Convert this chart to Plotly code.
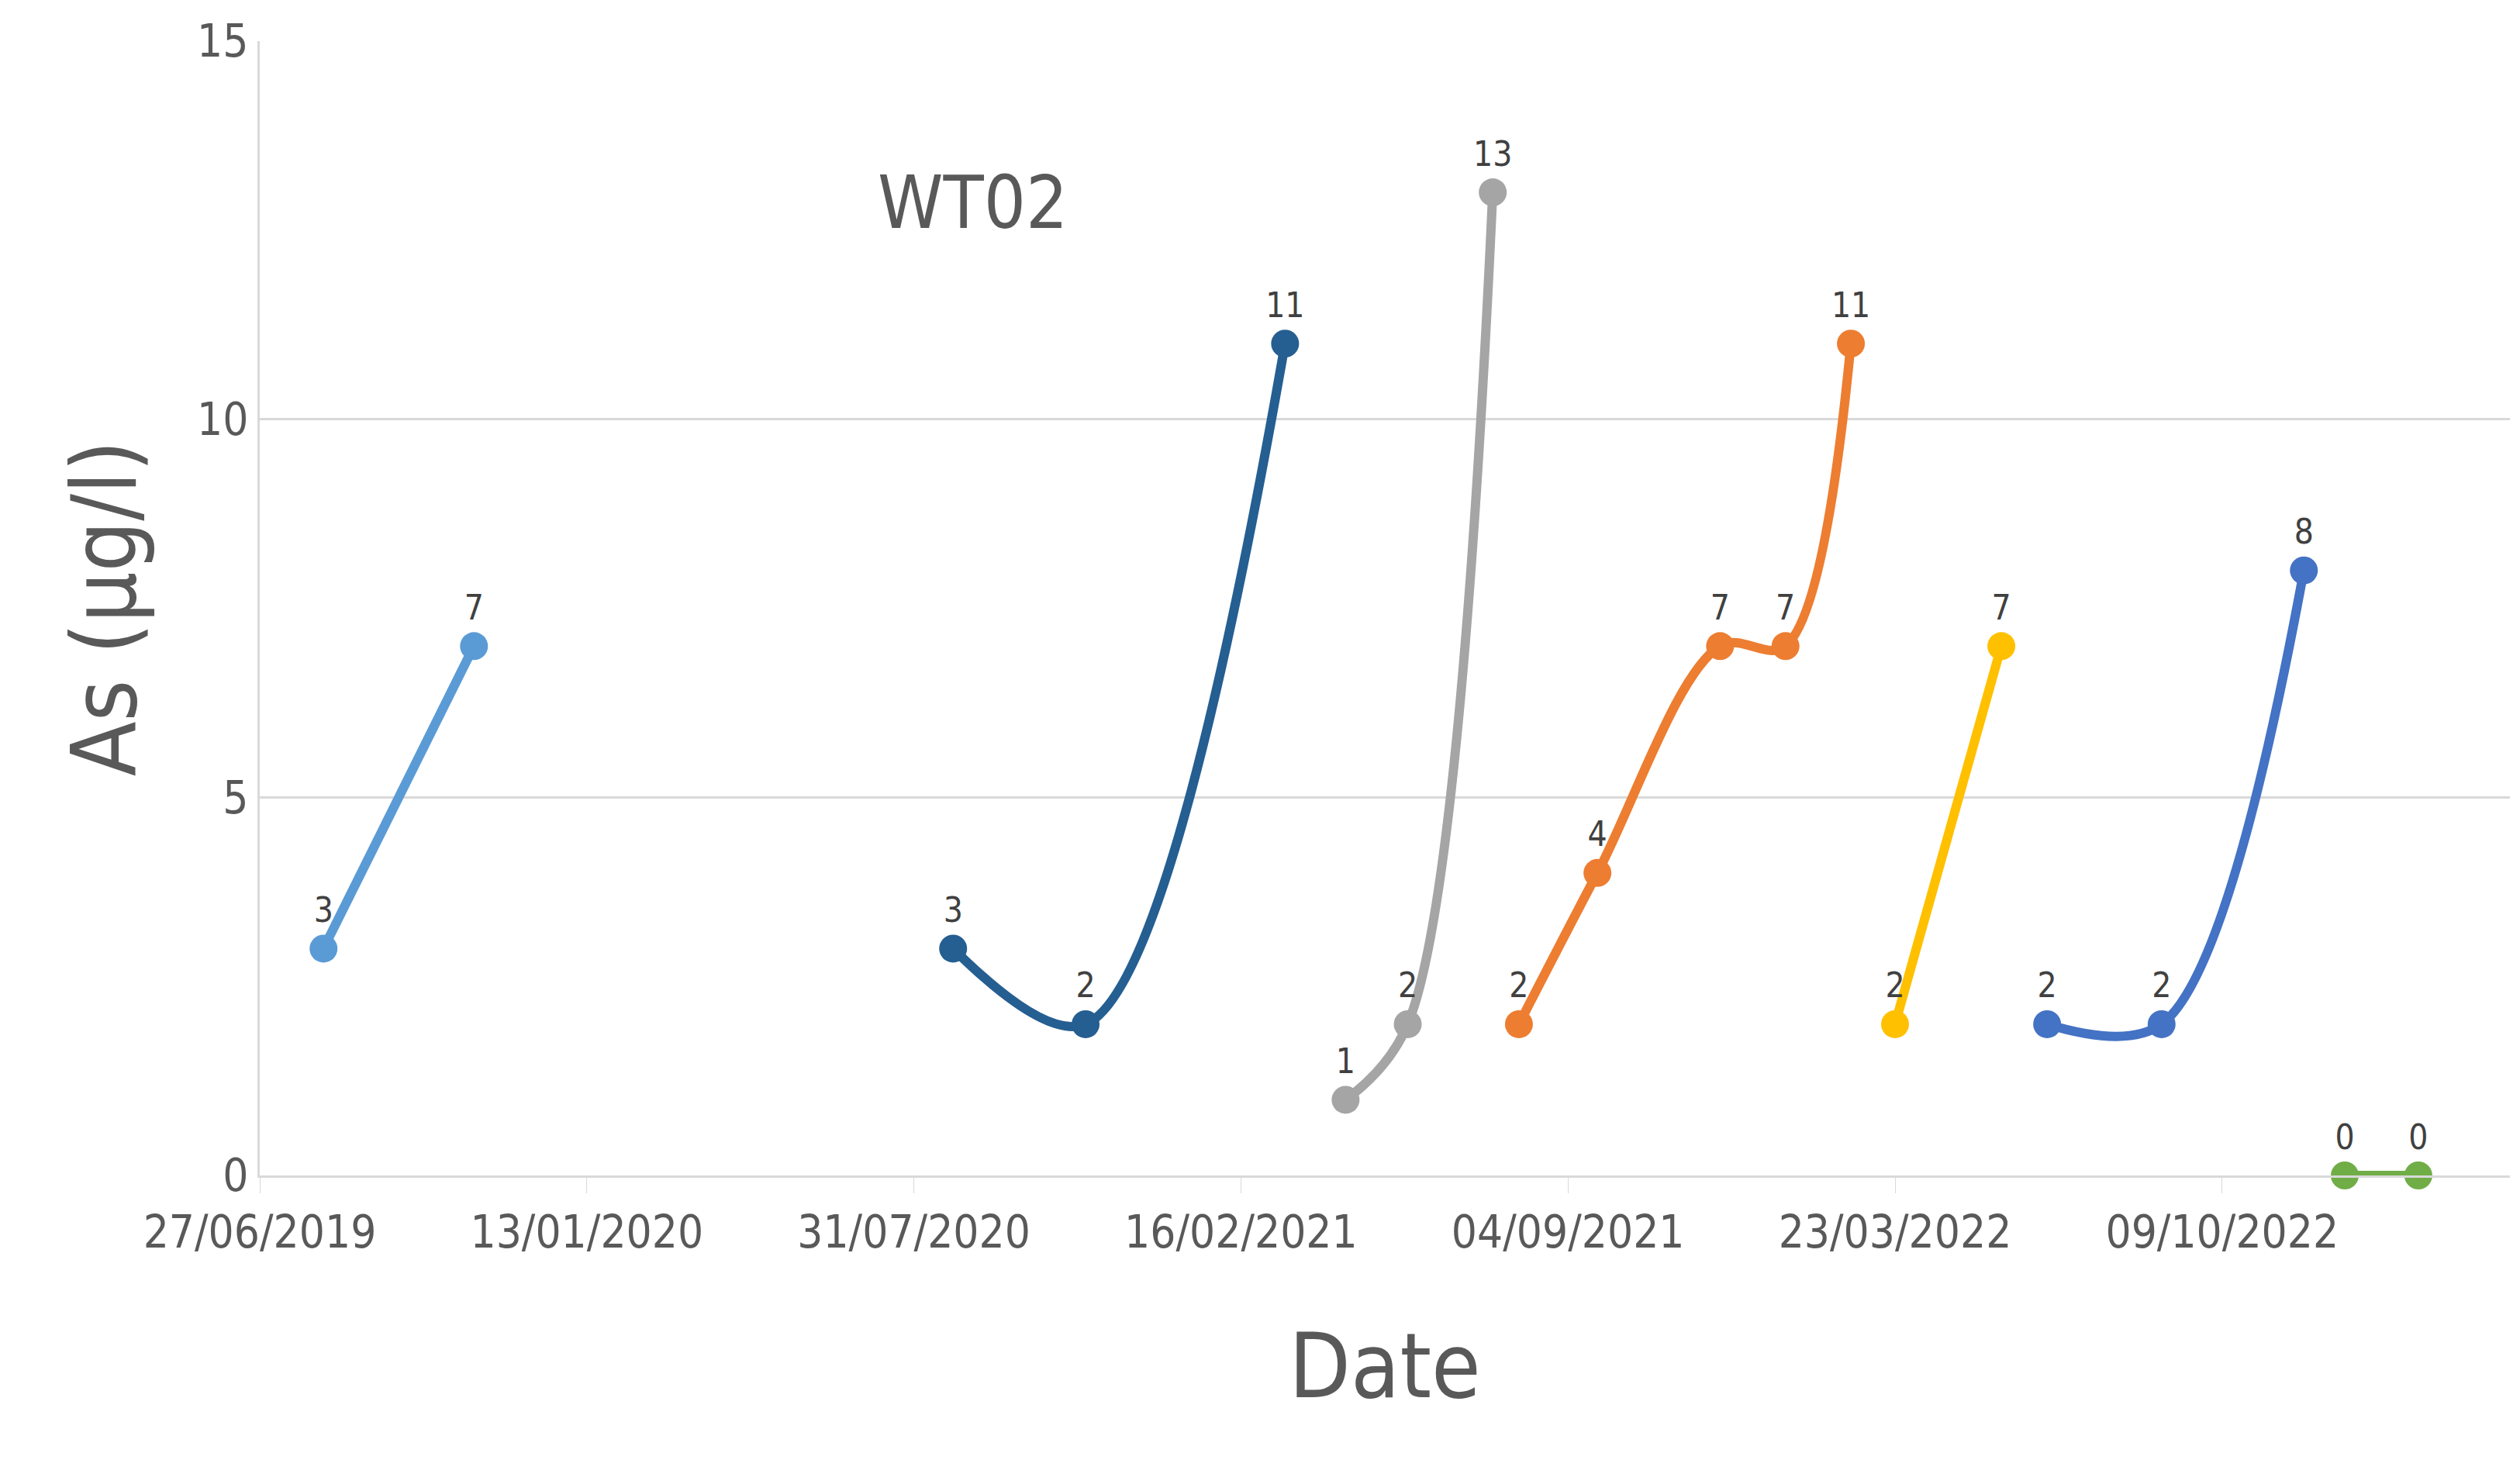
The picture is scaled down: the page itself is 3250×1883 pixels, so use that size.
import plotly.graph_objects as go

# each sampling campaign is its own series
dates_1 = ["2019-08-05", "2019-11-05"]
vals_1 = [3, 7]
dates_2 = ["2020-08-24", "2020-11-13", "2021-03-15"]
vals_2 = [3, 2, 11]
dates_3 = ["2021-04-21", "2021-05-29", "2021-07-20"]
vals_3 = [1, 2, 13]
dates_4 = ["2021-08-05", "2021-09-22", "2021-12-06", "2022-01-15", "2022-02-24"]
vals_4 = [2, 4, 7, 7, 11]
dates_5 = ["2022-03-23", "2022-05-27"]
vals_5 = [2, 7]
dates_6 = ["2022-06-24", "2022-09-02", "2022-11-28"]
vals_6 = [2, 2, 8]
dates_7 = ["2022-12-23", "2023-02-06"]
vals_7 = [0, 0]

series = [
    (dates_1, vals_1, "#5B9BD5"),
    (dates_2, vals_2, "#255E91"),
    (dates_3, vals_3, "#A5A5A5"),
    (dates_4, vals_4, "#ED7D31"),
    (dates_5, vals_5, "#FFC000"),
    (dates_6, vals_6, "#4472C4"),
    (dates_7, vals_7, "#70AD47"),
]

font_family = "Liberation Sans Narrow, DejaVu Sans Condensed, sans-serif"

fig = go.Figure()
for d, v, c in series:
    fig.add_trace(go.Scatter(
        x=d, y=v, mode="lines+markers+text",
        line=dict(color=c, width=12, shape="spline"),
        marker=dict(color=c, size=36),
        text=[str(t) for t in v], textposition="top center",
        textfont=dict(size=44, color="#404040"),
        showlegend=False, cliponaxis=False,
    ))

fig.add_annotation(text="WT02", x=0.317, y=0.858, xref="paper", yref="paper",
                   xanchor="center", yanchor="middle",
                   showarrow=False, font=dict(size=95, color="#595959"))

fig.update_layout(
    width=3250, height=1883,
    margin=dict(l=327, r=21, t=45, b=375),
    plot_bgcolor="white", paper_bgcolor="white",
    font=dict(family=font_family, color="#595959"),
    xaxis=dict(
        type="date", range=["2019-06-27", "2023-04-03"],
        tick0="2019-06-27", dtick=200 * 86400000, tickformat="%d/%m/%Y",
        tickfont=dict(size=58), ticks="outside", ticklen=20, tickcolor="#D9D9D9",
        showgrid=False, showline=True, linecolor="#D9D9D9", linewidth=3,
        title=dict(text="Date", font=dict(size=115), standoff=100),
    ),
    yaxis=dict(
        range=[0, 15], dtick=5, tickfont=dict(size=58),
        showgrid=True, gridcolor="#D9D9D9", gridwidth=3,
        showline=True, linecolor="#D9D9D9", linewidth=3, zeroline=False,
        title=dict(text="As (µg/l)", font=dict(size=115), standoff=40),
    ),
)

fig.write_html("out.html")
